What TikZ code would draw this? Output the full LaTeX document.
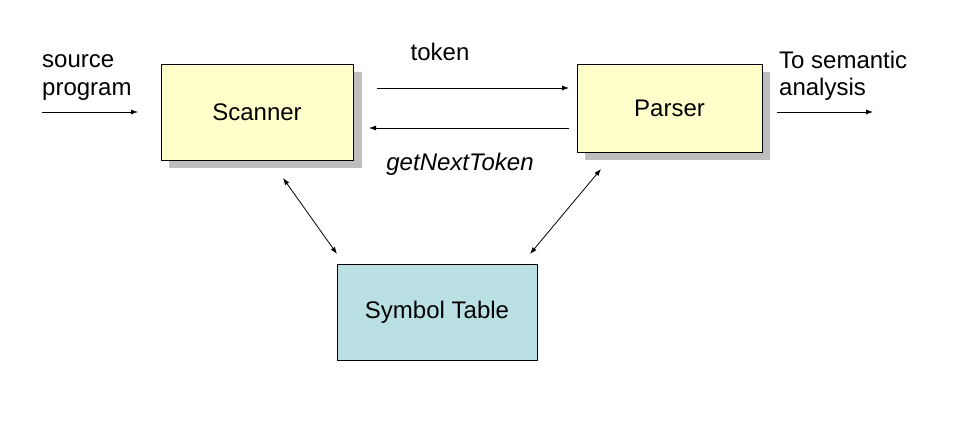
\documentclass[tikz,border=0pt]{standalone}
\usepackage{fontspec}
\setmainfont{Liberation Sans}
\usetikzlibrary{arrows.meta}
\definecolor{boxyellow}{RGB}{255,255,204}
\definecolor{boxblue}{RGB}{187,224,227}
\definecolor{shadowgray}{RGB}{190,190,190}
\begin{document}
\begin{tikzpicture}[x=1pt,y=-1pt,
  lbl/.style={font=\fontsize{24}{28}\selectfont, inner sep=0pt},
  conn/.style={draw=black, line width=0.8pt, -{Latex[length=7pt,width=5pt]}},
  dconn/.style={draw=black, line width=0.8pt, {Latex[length=7pt,width=5pt]}-{Latex[length=7pt,width=5pt]}}]
\useasboundingbox (0,0) rectangle (953,435);
% shadows
\fill[shadowgray] (169,72) rectangle (362,168);
\fill[shadowgray] (585,72) rectangle (770,160);
% boxes
\node[draw=black, line width=0.8pt, fill=boxyellow, minimum width=192pt, minimum height=96pt, inner sep=0pt, lbl] (scan) at (257,112) {Scanner};
\node[draw=black, line width=0.8pt, fill=boxyellow, minimum width=185pt, minimum height=88pt, inner sep=0pt, lbl] (pars) at (669.5,108) {Parser};
\node[draw=black, line width=0.8pt, fill=boxblue, minimum width=200pt, minimum height=96pt, inner sep=0pt, lbl] (sym) at (437,312) {Symbol Table};
% texts
\node[lbl, anchor=base west] (src1) at (42,68) {source};
\node[lbl, anchor=base west] (src2) at (42,96) {program};
\node[lbl] (tok) at (440,52) {token};
\node[lbl] (gnt) at (460,164) {\itshape getNextToken};
\node[lbl, anchor=base west] (out1) at (779,69) {To semantic};
\node[lbl, anchor=base west] (out2) at (779,96) {analysis};
% connector endpoints
\coordinate (srcs) at (42,112);
\coordinate (srce) at (138,112);
\coordinate (toks) at (377,88);
\coordinate (toke) at (569,88);
\coordinate (gnts) at (569,128);
\coordinate (gnte) at (369,128);
\coordinate (outs) at (777,112);
\coordinate (oute) at (873,112);
\coordinate (s1a) at (283,178);
\coordinate (s1b) at (337,254);
\coordinate (p1a) at (601,169);
\coordinate (p1b) at (530,254);
\draw[conn] (srcs) -- (srce);
\draw[conn] (toks) -- (toke);
\draw[conn] (gnts) -- (gnte);
\draw[conn] (outs) -- (oute);
\draw[dconn] (s1a) -- (s1b);
\draw[dconn] (p1a) -- (p1b);
\end{tikzpicture}
\end{document}
